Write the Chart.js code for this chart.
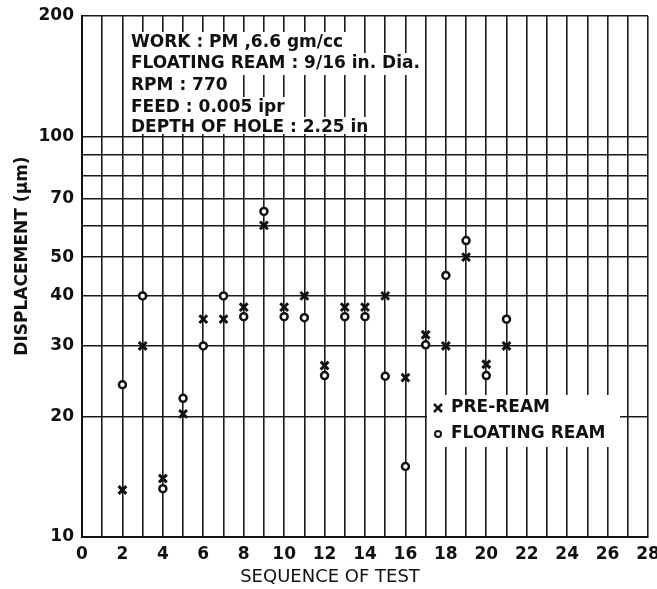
<!DOCTYPE html>
<html>
<head>
<meta charset="utf-8">
<script src="https://cdn.jsdelivr.net/npm/chart.js@4"></script>
<style>
  html, body { margin: 0; padding: 0; background: #fff; }
  #wrap { width: 657px; height: 589px; }
</style>
</head>
<body>
<div id="wrap"><canvas id="dispChart" width="657" height="589"></canvas></div>
<script>
// Displacement vs sequence of test (log scale)

const testSeq = [2, 3, 4, 5, 6, 7, 8, 9, 10, 11, 12, 13, 14, 15, 16, 17, 18, 19, 20, 21];
const preReam = [13.1, 30, 14, 20.3, 35, 35, 37.5, 60, 37.5, 40, 26.8, 37.5, 37.5, 40, 25, 32, 30, 50, 27, 30];
const floatingReam = [24, 40, 13.2, 22.2, 30, 40, 35.5, 65, 35.5, 35.3, 25.3, 35.5, 35.5, 25.2, 15, 30.2, 45, 55, 25.3, 35];

const yTickValues = [10, 20, 30, 40, 50, 60, 70, 80, 90, 100, 200];
const yTickLabels = ['10', '20', '30', '40', '50', '', '70', '', '', '100', '200'];

const infoLines = [
    'WORK : PM ,6.6 gm/cc',
    'FLOATING REAM : 9/16 in. Dia.',
    'RPM : 770',
    'FEED : 0.005 ipr',
    'DEPTH OF HOLE : 2.25 in'
];
const legendLabels = ['PRE-REAM', 'FLOATING REAM'];

const INK = '#111';
const FONT = '"DejaVu Sans", sans-serif';

function toPoints(values) {
    return testSeq.map((x, i) => ({ x: x, y: values[i] }));
}

function drawCross(ctx, x, y, r) {
    ctx.beginPath();
    ctx.moveTo(x - r, y - r); ctx.lineTo(x + r, y + r);
    ctx.moveTo(x + r, y - r); ctx.lineTo(x - r, y + r);
    ctx.stroke();
}

function drawRing(ctx, x, y, r) {
    ctx.beginPath();
    ctx.arc(x, y, r, 0, Math.PI * 2);
    ctx.fillStyle = '#fff';
    ctx.fill();
    ctx.stroke();
}

// Notes, legend and axis titles drawn on top of the grid
const annotations = {
    id: 'annotations',
    afterDraw(chart) {
        const ctx = chart.ctx;
        ctx.save();

        // info block, top left
        ctx.font = 'bold 17px ' + FONT;
        ctx.textBaseline = 'middle';
        ctx.textAlign = 'left';
        const rowY = [43, 64, 86, 108, 128];
        infoLines.forEach((txt, i) => {
            const w = ctx.measureText(txt).width;
            ctx.fillStyle = '#fff';
            ctx.fillRect(127, rowY[i] - 11, w + 8, i === 4 ? 17 : 22);
        });
        ctx.fillStyle = INK;
        infoLines.forEach((txt, i) => ctx.fillText(txt, 131, rowY[i]));

        // legend box, lower right
        ctx.fillStyle = '#fff';
        ctx.fillRect(427, 395, 193, 52);
        ctx.strokeStyle = INK;
        ctx.lineWidth = 2.5;
        drawCross(ctx, 438, 408, 4);
        ctx.lineWidth = 2;
        drawRing(ctx, 438, 434, 3);
        ctx.fillStyle = INK;
        ctx.font = 'bold 17px ' + FONT;
        ctx.fillText(legendLabels[0], 451, 408);
        ctx.fillText(legendLabels[1], 451, 434);

        // axis titles
        ctx.font = '18px ' + FONT;
        ctx.textAlign = 'center';
        ctx.fillText('SEQUENCE OF TEST', 330, 577);
        ctx.font = 'bold 17px ' + FONT;
        ctx.translate(23, 256);
        ctx.rotate(-Math.PI / 2);
        ctx.fillText('DISPLACEMENT (\u03bcm)', 0, 0);
        ctx.restore();
    }
};

document.addEventListener('DOMContentLoaded', function() {
    const ctx = document.getElementById('dispChart');
    new Chart(ctx, {
        type: 'scatter',
        data: {
            datasets: [{
                label: legendLabels[0],
                data: toPoints(preReam),
                pointStyle: 'crossRot',
                pointRadius: 5.5,
                borderColor: INK,
                borderWidth: 3
            }, {
                label: legendLabels[1],
                data: toPoints(floatingReam),
                pointStyle: 'circle',
                pointRadius: 3.5,
                backgroundColor: '#fff',
                borderColor: INK,
                borderWidth: 2.5
            }]
        },
        options: {
            responsive: false,
            animation: false,
            devicePixelRatio: 1,
            layout: { padding: { top: 16, right: 9, left: 0, bottom: 0 } },
            plugins: {
                legend: { display: false },
                tooltip: { enabled: false }
            },
            scales: {
                x: {
                    type: 'linear',
                    min: 0,
                    max: 28,
                    ticks: {
                        stepSize: 1,
                        autoSkip: false,
                        maxRotation: 0,
                        color: INK,
                        font: { family: FONT, size: 17, weight: 'bold' },
                        padding: 7,
                        callback: v => (v % 2 === 0 ? String(v) : '')
                    },
                    grid: { color: '#1a1a1a', lineWidth: 1.6, drawTicks: false },
                    border: { color: INK, width: 2 },
                    afterFit(s) { s.height = 52; s.paddingLeft = 0; s.paddingRight = 0; }
                },
                y: {
                    type: 'logarithmic',
                    min: 10,
                    max: 200,
                    afterBuildTicks(s) { s.ticks = yTickValues.map(v => ({ value: v })); },
                    ticks: {
                        autoSkip: false,
                        color: INK,
                        font: { family: FONT, size: 17, weight: 'bold' },
                        padding: 8,
                        callback: function(v) {
                            const i = yTickValues.indexOf(v);
                            return i >= 0 ? yTickLabels[i] : '';
                        }
                    },
                    grid: { color: '#1a1a1a', lineWidth: 1.6, drawTicks: false },
                    border: { color: INK, width: 2 },
                    afterFit(s) { s.width = 82; s.paddingTop = 0; s.paddingBottom = 0; }
                }
            }
        },
        plugins: [annotations]
    });
});
</script>
</body>
</html>
